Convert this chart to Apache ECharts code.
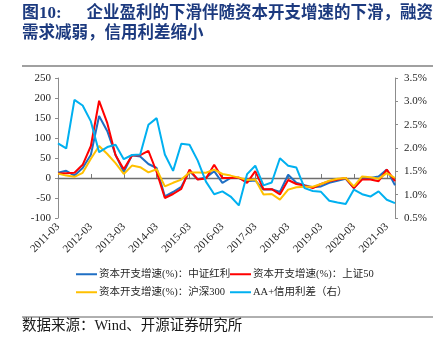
<!DOCTYPE html>
<html>
<head>
<meta charset="utf-8">
<script src="https://cdn.jsdelivr.net/npm/echarts@6/dist/echarts.min.js"></script>
<style>
html,body{margin:0;padding:0;background:#fff;}
#c{width:445px;height:350px;}
</style>
</head>
<body>
<div id="c"></div>
<script>
const categories = [
  '2011-03','2011-06','2011-09','2011-12','2012-03','2012-06','2012-09','2012-12',
  '2013-03','2013-06','2013-09','2013-12','2014-03','2014-06','2014-09','2014-12',
  '2015-03','2015-06','2015-09','2015-12','2016-03','2016-06','2016-09','2016-12',
  '2017-03','2017-06','2017-09','2017-12','2018-03','2018-06','2018-09','2018-12',
  '2019-03','2019-06','2019-09','2019-12','2020-03','2020-06','2020-09','2020-12',
  '2021-03','2021-06'
];
const capexHongli = [13,18,6,25,58,155,117,58,15,57,54,35,25,-46,-35,-22,17,-3,1,17,-12,0,0,-8,-6,-29,-28,-35,8,-12,-18,-23,-21,-12,-7,-2,-25,0,0,4,21,-18];
const capexSZ50 = [11,12,13,33,80,193,137,57,22,56,57,68,15,-50,-40,-27,21,-4,-1,33,0,0,1,-12,17,-28,-28,-41,-5,-15,-19,-25,-15,-8,-4,0,-25,-4,-4,-8,21,-8];
const capexHS300 = [11,6,3,13,48,80,60,37,10,31,27,14,22,-21,-12,-4,14,14,13,21,10,6,1,-5,-4,-41,-40,-54,-29,-23,-22,-22,-15,-7,-2,0,-21,4,2,-2,12,0];
const spreadAAplus = [2.10,1.99,3.03,2.91,2.57,1.91,2.02,2.07,1.76,1.85,1.86,2.50,2.64,1.86,1.51,2.09,2.07,1.73,1.28,1.01,1.07,0.96,0.77,1.44,1.62,1.20,1.26,1.78,1.62,1.58,1.14,1.08,1.06,0.87,0.83,0.80,1.11,1.01,0.96,1.07,0.89,0.82];
const leftTicks = {min:-100, max:250, interval:50};
const rightTicks = {min:0.5, max:3.5, interval:0.5};
const names = ['资本开支增速(%)：中证红利','资本开支增速(%)：上证50','资本开支增速(%)：沪深300','AA+信用利差（右）'];
const titleLine1a = '图10:';
const titleLine1b = '企业盈利的下滑伴随资本开支增速的下滑，融资';
const titleLine2 = '需求减弱，信用利差缩小';
const sourceText = '数据来源：Wind、开源证券研究所';

const FONT = '"Liberation Serif","Noto Sans CJK SC",serif';
const axisGray = '#8c8c8c';
const textColor = '#262626';
const titleColor = '#1c3a7f';

const chart = echarts.init(document.getElementById('c'), null, {renderer:'canvas'});

function legendAt(name, left, top){
  return {
    data:[name], left:left, top:top, padding:0, icon:'rect',
    itemWidth:21, itemHeight:2, itemGap:0,
    textStyle:{fontFamily:FONT, fontSize:10.5, color:textColor, padding:[0,0,0,-3]}
  };
}

chart.setOption({
  animation:false,
  backgroundColor:'#fff',
  grid:{left:58, right:50, top:78, bottom:132, containLabel:false},
  legend:[
    legendAt(names[0], 76, 269),
    legendAt(names[1], 230, 269),
    legendAt(names[2], 76, 287),
    legendAt(names[3], 230, 287)
  ],
  xAxis:[
    {
      type:'category', data:categories, boundaryGap:false,
      axisLine:{show:false, onZero:false},
      axisTick:{show:false},
      splitLine:{show:false},
      axisLabel:{interval:3, rotate:45, margin:7, fontFamily:FONT, fontSize:11, color:textColor}
    },
    {
      type:'category', data:categories, boundaryGap:false, position:'bottom',
      axisLine:{show:true, onZero:true, lineStyle:{color:'#6e6e6e', width:1.4}},
      axisTick:{show:true, interval:3, inside:true, length:4, lineStyle:{color:'#7a7a7a', width:1}},
      axisLabel:{show:false},
      splitLine:{show:false}
    }
  ],
  yAxis:[
    {
      type:'value', min:leftTicks.min, max:leftTicks.max, interval:leftTicks.interval,
      axisLine:{show:true, lineStyle:{color:axisGray, width:1}},
      axisTick:{show:true, length:3, lineStyle:{color:axisGray}},
      splitLine:{show:false},
      axisLabel:{margin:7, fontFamily:FONT, fontSize:11, color:textColor}
    },
    {
      type:'value', position:'right', min:rightTicks.min, max:rightTicks.max, interval:rightTicks.interval,
      axisLine:{show:true, lineStyle:{color:axisGray, width:1}},
      axisTick:{show:true, length:3, lineStyle:{color:axisGray}},
      splitLine:{show:false},
      axisLabel:{margin:9, fontFamily:FONT, fontSize:11, color:textColor,
        formatter:function(v){return v.toFixed(1)+'%';}}
    }
  ],
  series:[
    {name:names[0], type:'line', data:capexHongli, xAxisIndex:0, yAxisIndex:0, symbol:'none',
      lineStyle:{color:'#1f6fc4', width:2}, itemStyle:{color:'#1f6fc4'}},
    {name:names[1], type:'line', data:capexSZ50, xAxisIndex:0, yAxisIndex:0, symbol:'none',
      lineStyle:{color:'#ff0000', width:2}, itemStyle:{color:'#ff0000'}},
    {name:names[2], type:'line', data:capexHS300, xAxisIndex:0, yAxisIndex:0, symbol:'none',
      lineStyle:{color:'#ffc000', width:2}, itemStyle:{color:'#ffc000'}},
    {name:names[3], type:'line', data:spreadAAplus, xAxisIndex:0, yAxisIndex:1, symbol:'none',
      lineStyle:{color:'#00b0f0', width:2}, itemStyle:{color:'#00b0f0'}}
  ],
  graphic:[
    {type:'text', left:22, top:5, style:{text:titleLine1a, font:'bold 17px '+FONT, fill:titleColor}},
    {type:'text', right:12, top:5, style:{text:titleLine1b, font:'bold 16.5px '+FONT, fill:titleColor}},
    {type:'text', left:22, top:25, style:{text:titleLine2, font:'bold 16.5px '+FONT, fill:titleColor}},
    {type:'line', shape:{x1:22, y1:66, x2:433, y2:66}, style:{stroke:'#808080', lineWidth:1.5}},
    {type:'line', shape:{x1:22, y1:317, x2:433, y2:317}, style:{stroke:'#606060', lineWidth:1}},
    {type:'text', left:22, top:319, style:{text:sourceText, font:'14.5px '+FONT, fill:'#1a1a1a'}}
  ]
});
</script>
</body>
</html>
